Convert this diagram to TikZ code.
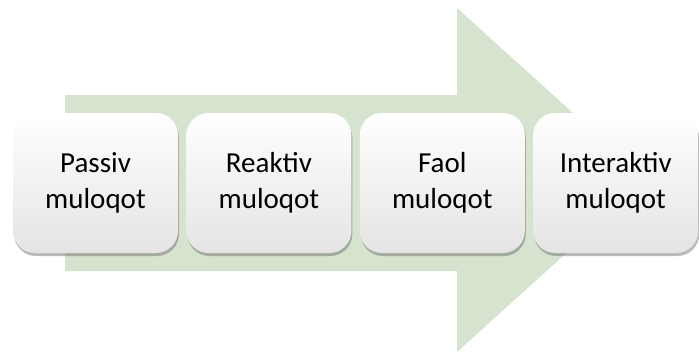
\documentclass[tikz,border=0pt]{standalone}
\usepackage{fontspec}
\setmainfont{Carlito}
\usetikzlibrary{positioning, shadows}
\definecolor{arrowgreen}{RGB}{214,227,207}
\definecolor{boxgray}{RGB}{228,228,228}

\begin{document}
\begin{tikzpicture}[x=1pt, y=-1pt,
  stage/.style={rounded corners=22pt, minimum width=165pt, minimum height=140pt,
    top color=white, bottom color=boxgray, align=center,
    font=\fontsize{29}{36}\selectfont,
    drop shadow={opacity=0.45, shadow xshift=1pt, shadow yshift=-3pt, fill=black!60}}]
  \useasboundingbox (0,0) rectangle (699,354);
  % big arrow behind the stages
  \fill[arrowgreen] (65,95) -- (457,95) -- (457,8) -- (647,180) -- (457,352)
    -- (457,271) -- (65,271) -- cycle;
  \node[stage] (pas) at (95.5,183) {Passiv\\muloqot};
  \node[stage, right=8pt of pas] (rea) {Reaktiv\\muloqot};
  \node[stage, right=8pt of rea] (fao) {Faol\\muloqot};
  \node[stage, right=8pt of fao] (int) {Interaktiv\\muloqot};
\end{tikzpicture}
\end{document}
